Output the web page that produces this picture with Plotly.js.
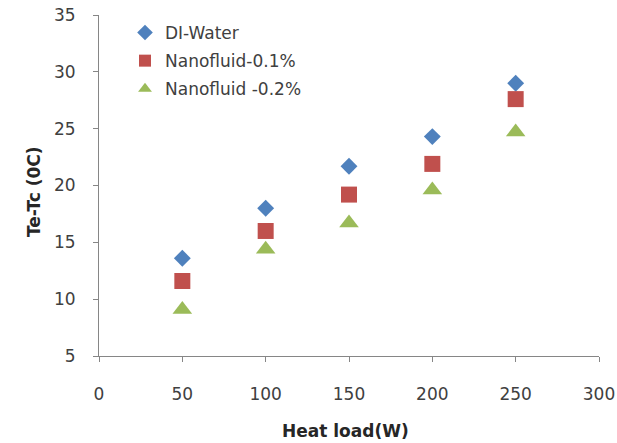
<!DOCTYPE html>
<html><head><meta charset="utf-8">
<script src="https://cdn.plot.ly/plotly-3.0.1.min.js"></script>
<style>html,body{margin:0;padding:0;background:#fff}</style>
</head><body>
<div id="chart" style="width:617px;height:443px"></div>
<script>
const heatLoad = [50, 100, 150, 200, 250];
const diWater = [13.6, 18.0, 21.7, 24.3, 29.0];
const nano01 = [11.6, 16.0, 19.2, 21.9, 27.6];
const nano02 = [9.1, 14.4, 16.7, 19.6, 24.7];
const seriesNames = ["DI-Water", "Nanofluid-0.1%", "Nanofluid -0.2%"];
const xTicks = [0, 50, 100, 150, 200, 250, 300];
const yTicks = [5, 10, 15, 20, 25, 30, 35];

const FONT = "DejaVu Sans, Verdana, sans-serif";
const traces = [
  {x: heatLoad, y: diWater, name: seriesNames[0], legendgroup: "a", mode: "markers", type: "scatter",
   marker: {symbol: "diamond", size: 13, color: "#4F81BD"}},
  {x: heatLoad, y: nano01, name: seriesNames[1], legendgroup: "b", mode: "markers", type: "scatter",
   marker: {symbol: "square", size: 16, color: "#C0504D"}},
  {x: heatLoad, y: nano02, name: seriesNames[2], legendgroup: "c", mode: "markers", type: "scatter",
   marker: {symbol: "triangle-up", size: 17, color: "#9BBB59"}}
];
const axisCommon = {
  showgrid: false, zeroline: false, showline: true, linecolor: "#868686", linewidth: 1,
  ticks: "outside", ticklen: 5, tickcolor: "#868686",
  tickfont: {family: FONT, size: 17, color: "#404040"}
};
const layout = {
  width: 617, height: 443,
  margin: {l: 99, r: 18, t: 15, b: 87},
  paper_bgcolor: "#fff", plot_bgcolor: "#fff",
  showlegend: true,
  legend: {x: 0.052, y: 1.0, xanchor: "left", yanchor: "top", bgcolor: "rgba(0,0,0,0)",
    font: {family: FONT, size: 17, color: "#404040"}, tracegroupgap: 3, traceorder: "grouped", itemsizing: "constant"},
  xaxis: Object.assign({}, axisCommon, {range: [0, 300], tickvals: xTicks, ticktext: xTicks.map(String), ticklabelstandoff: 18}),
  yaxis: Object.assign({}, axisCommon, {range: [5, 35], tickvals: yTicks, ticktext: yTicks.map(String), ticklabelstandoff: 14}),
  annotations: [
    {text: "<b>Heat load(W)</b>", xref: "paper", yref: "paper", x: (345-99)/500, y: (356-431)/341, yanchor: "middle",
     showarrow: false, font: {family: FONT, size: 17, color: "#262626"}},
    {text: "<b>Te-Tc (0C)</b>", xref: "paper", yref: "paper", x: (21.5-99)/500, y: (356-191.5)/341, textangle: -90,
     showarrow: false, font: {family: FONT, size: 17, color: "#262626"}}
  ]
};
Plotly.newPlot("chart", traces, layout, {displayModeBar: false, staticPlot: true});
</script>
</body></html>
